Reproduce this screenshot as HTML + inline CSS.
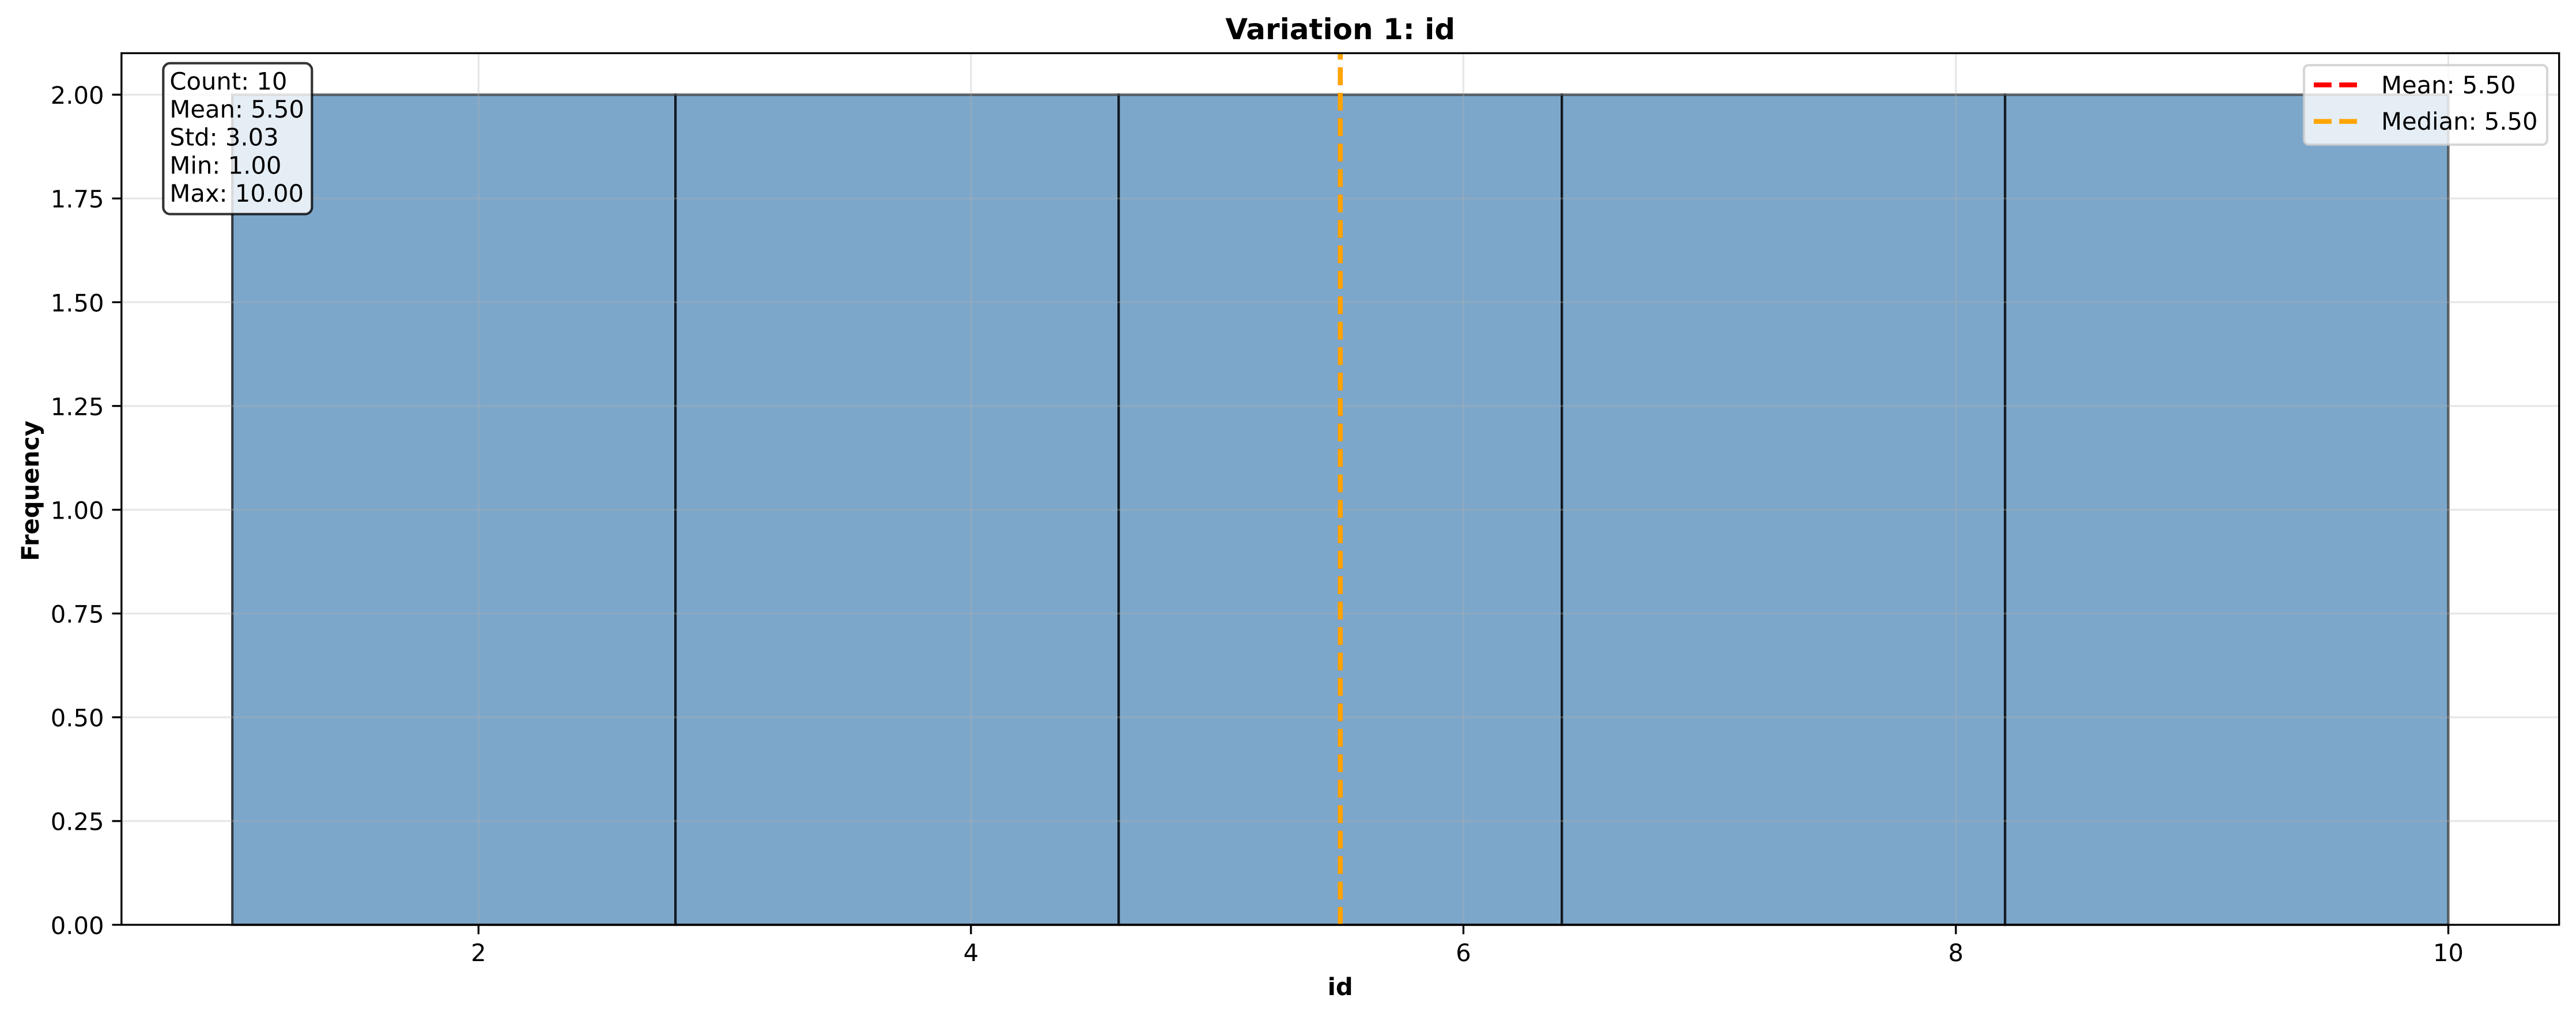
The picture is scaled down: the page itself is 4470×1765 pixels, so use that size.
<!DOCTYPE html>
<html lang="en">
<head>
<meta charset="utf-8">
<title>Variation 1: id</title>
<style>
html,body{margin:0;padding:0;background:#fff;width:4470px;height:1765px;overflow:hidden}
svg{display:block}
text{font-family:"DejaVu Sans","Liberation Sans",sans-serif;font-size:41.67px;fill:#000;text-rendering:geometricPrecision}
.bold{font-weight:bold}
</style>
</head>
<body>
<svg id="chart" xmlns="http://www.w3.org/2000/svg" width="4470" height="1765" viewBox="0 0 4470 1765">
  <rect x="0" y="0" width="4470" height="1765" fill="#fff"/>
  <g id="bars"></g>
  <g id="grid"></g>
  <g id="refLines"></g>
  <g id="spines"></g>
  <g id="xAxis"></g>
  <g id="yAxis"></g>

  <text class="bold" x="2325.7" y="68" text-anchor="middle" style="font-size:50px">Variation 1: id</text>
  <text class="bold" x="2325.7" y="1727" text-anchor="middle">id</text>
  <text class="bold" transform="translate(67 973.8) rotate(-90)" x="0" y="0">Frequency</text>

  <g>
    <rect x="283.3" y="109.7" width="258" height="261.9" rx="12" ry="12" fill="#fff" fill-opacity="0.8" stroke="#000" stroke-opacity="0.8" stroke-width="4.17"/>
    <text x="294.4" y="155.3">Count: 10</text>
    <text x="294.4" y="204">Mean: 5.50</text>
    <text x="294.4" y="252.7">Std: 3.03</text>
    <text x="294.4" y="301.4">Min: 1.00</text>
    <text x="294.4" y="350">Max: 10.00</text>
  </g>

  <g>
    <rect x="3998" y="113.1" width="422" height="138" rx="8.3" ry="8.3" fill="#fff" fill-opacity="0.8" stroke="#ccc" stroke-opacity="0.8" stroke-width="4.17"/>
    <line x1="4015" y1="147.3" x2="4098.3" y2="147.3" stroke="#ff0000" stroke-width="8.33" stroke-dasharray="30.83 13.33"/>
    <text x="4132" y="162">Mean: 5.50</text>
    <line x1="4015" y1="210.7" x2="4098.3" y2="210.7" stroke="#ffa500" stroke-width="8.33" stroke-dasharray="30.83 13.33"/>
    <text x="4132" y="225">Median: 5.50</text>
  </g>
</svg>
<script>
// Chart data
const binEdges = [1, 2.8, 4.6, 6.4, 8.2, 10];
const binCounts = [2, 2, 2, 2, 2];
const meanValue = 5.5;
const medianValue = 5.5;
const xTickValues = [2, 4, 6, 8, 10];
const xTickLabels = ['2', '4', '6', '8', '10'];
const yTickValues = [0, 0.25, 0.5, 0.75, 1, 1.25, 1.5, 1.75, 2];
const yTickLabels = ['0.00', '0.25', '0.50', '0.75', '1.00', '1.25', '1.50', '1.75', '2.00'];

// Axis functions
const plotLeft = 210.8, plotRight = 4440.7, plotTop = 92.3, plotBottom = 1605;
const xMin = 0.55, xMax = 10.45, yMin = 0, yMax = 2.1;
function xScale(v) { return plotLeft + (v - xMin) / (xMax - xMin) * (plotRight - plotLeft); }
function yScale(v) { return plotBottom - (v - yMin) / (yMax - yMin) * (plotBottom - plotTop); }

const NS = 'http://www.w3.org/2000/svg';
function make(tag, parent, attrs) {
  const el = document.createElementNS(NS, tag);
  for (const k in attrs) el.setAttribute(k, attrs[k]);
  parent.appendChild(el);
  return el;
}
const barsG = document.getElementById('bars');
const gridG = document.getElementById('grid');
const refG = document.getElementById('refLines');
const spinesG = document.getElementById('spines');
const xAxisG = document.getElementById('xAxis');
const yAxisG = document.getElementById('yAxis');

binCounts.forEach(function (count, i) {
  const x0 = xScale(binEdges[i]);
  const x1 = xScale(binEdges[i + 1]);
  const y = yScale(count);
  const bar = make('rect', barsG, { x: x0, y: y, width: x1 - x0, height: yScale(0) - y, fill: '#4682b4', 'fill-opacity': 0.7, stroke: '#000', 'stroke-opacity': 0.7, 'stroke-width': 4.17 });
  
  
});

xTickValues.forEach(function (v, i) {
  const x = xScale(v);
  const g = make('line', gridG, { x1: x, x2: x, y1: plotTop, y2: plotBottom, stroke: '#b0b0b0', 'stroke-opacity': 0.3, 'stroke-width': 3.33 });
  
  
  const t = make('line', xAxisG, { x1: x, x2: x, y1: plotBottom, y2: plotBottom + 16.3, stroke: '#000', 'stroke-width': 3.33 });
  
  
  const l = make('text', xAxisG, { x: x, y: 1668, 'text-anchor': 'middle' });
  l.textContent = xTickLabels[i];
  
  
});

yTickValues.forEach(function (v, i) {
  const y = yScale(v);
  if (v !== 0) {
    const g = make('line', gridG, { x1: plotLeft, x2: plotRight, y1: y, y2: y, stroke: '#b0b0b0', 'stroke-opacity': 0.3, 'stroke-width': 3.33 });
    
    
  }
  const t = make('line', yAxisG, { x1: plotLeft - 16.3, x2: plotLeft, y1: y, y2: y, stroke: '#000', 'stroke-width': 3.33 });
  
  
  const l = make('text', yAxisG, { x: 180.5, y: y + 15.8, 'text-anchor': 'end' });
  l.textContent = yTickLabels[i];
  
  
});

const meanLine = make('line', refG, { x1: xScale(meanValue), x2: xScale(meanValue), y1: plotBottom, y2: plotTop, stroke: '#ff0000', 'stroke-width': 8.33, 'stroke-dasharray': '30.83 13.33' });


const medianLine = make('line', refG, { x1: xScale(medianValue), x2: xScale(medianValue), y1: plotBottom, y2: plotTop, stroke: '#ffa500', 'stroke-width': 8.33, 'stroke-dasharray': '30.83 13.33' });



const frame = make('rect', spinesG, { x: plotLeft, y: plotTop, width: plotRight - plotLeft, height: plotBottom - plotTop, fill: 'none', stroke: '#000', 'stroke-width': 3.33 });


</script>
</body>
</html>
